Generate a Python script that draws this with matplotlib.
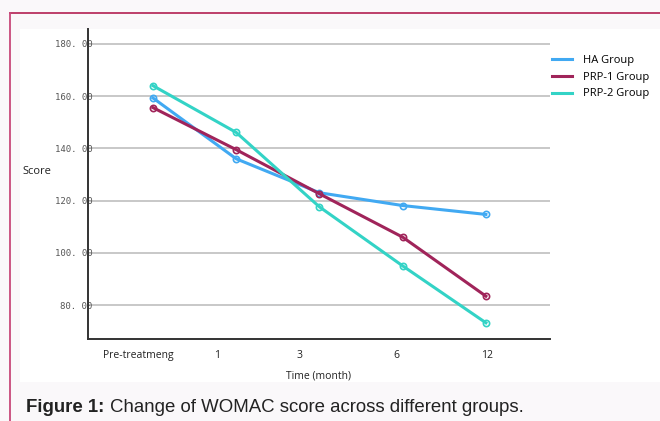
import numpy as np
import matplotlib.pyplot as plt
from matplotlib.lines import Line2D
from matplotlib.patches import Rectangle

# data
time_labels = ['Pre-treatmeng', '1', '3', '6', '12']
ha_group    = [159.3, 136.0, 123.0, 118.1, 114.7]
prp1_group  = [155.6, 139.5, 122.6, 106.0, 83.4]
prp2_group  = [164.0, 146.1, 117.6, 95.0, 73.2]
y_ticks     = [80, 100, 120, 140, 160, 180]

W, H = 660, 421


def FigParams():
    plt.rcParams['font.family'] = ['Open Sans', 'DejaVu Sans']
    plt.rcParams['axes.axisbelow'] = True


def px(x, y):
    # pixel coords (top-left origin) -> figure fraction
    return x / W, 1 - y / H


def FigGet():
    fig = plt.figure(figsize=(W / 100, H / 100), dpi=100, facecolor='#faf8fa')
    # white chart panel
    x0, y0 = px(20, 382)
    fig.patches.append(Rectangle((x0, y0), 1 - x0, (382 - 29) / H, transform=fig.transFigure,
                                 facecolor='white', edgecolor='none', zorder=-5))
    # crimson frame lines (top and left)
    fig.lines.append(Line2D([10 / W, 1], [1 - 13 / H, 1 - 13 / H], transform=fig.transFigure,
                            color='#b8305e', linewidth=1.3))
    fig.lines.append(Line2D([10 / W, 10 / W], [1 - 13 / H, 0], transform=fig.transFigure,
                            color='#c8487a', linewidth=1.3))
    l, b = px(88, 339)
    r, t = px(550, 29)
    ax = fig.add_axes([l, b, r - l, t - b])
    ax.set_facecolor('white')
    ax.patch.set_alpha(0)
    return fig, ax


def FigPlot(fig, ax):
    x = np.arange(len(time_labels))
    series = [('HA Group', ha_group, '#41a9f2'),
              ('PRP-1 Group', prp1_group, '#a0245a'),
              ('PRP-2 Group', prp2_group, '#33d3c6')]
    for name, vals, col in series:
        ax.plot(x, vals, color=col, linewidth=2.2, marker='o', markersize=4.5,
                markerfacecolor='none', markeredgecolor=col, markeredgewidth=1.2,
                label=name)

    ax.set_xlim(-0.78, 4.77)
    ax.set_ylim(67, 185.7)

    ax.set_yticks(y_ticks)
    ax.set_yticklabels(['{:.2f}'.format(v).replace('.', '. ') for v in y_ticks],
                       fontsize=6.5, color='#555555', family='DejaVu Sans Mono')
    ax.grid(axis='y', color='#c4c4c4', linewidth=1.3)

    # tick labels sit a bit left of the points in the original
    shift = [-0.18, -0.23, -0.24, -0.07, 0.01]
    ax.set_xticks(x + np.array(shift))
    ax.set_xticklabels(time_labels, fontsize=7.5, color='#222222')
    ax.tick_params(axis='both', length=0)
    ax.tick_params(axis='x', pad=8)
    ax.tick_params(axis='y', pad=-3)

    for s in ['top', 'right']:
        ax.spines[s].set_visible(False)
    for s in ['left', 'bottom']:
        ax.spines[s].set_color('#333333')
        ax.spines[s].set_linewidth(1.4)

    ax.set_xlabel('Time (month)', fontsize=7.5, color='#222222', labelpad=7)
    fig.text(37 / W, 1 - 172 / H, 'Score', fontsize=8, color='#222222',
             ha='center', va='center')

    leg = ax.legend(loc='upper left', bbox_to_anchor=(1.005, 0.915), frameon=False,
                    fontsize=8, handlelength=1.8, handletextpad=1.0,
                    labelspacing=0.5, borderaxespad=0, borderpad=0)
    for h in leg.legend_handles:
        h.set_marker('')
        h.set_linewidth(2.2)

    # caption
    fig.text(26 / W, 1 - 408 / H, 'Figure 1:', fontsize=13.4, fontweight='bold',
             family='Liberation Sans', color='#222222', va='center')
    fig.text(110 / W, 1 - 408 / H, 'Change of WOMAC score across different groups.',
             fontsize=13.4, family='Liberation Sans', color='#222222', va='center')


def main():
    FigParams()
    fig, ax = FigGet()
    FigPlot(fig, ax)
    fig.savefig('out.png', dpi=100, facecolor=fig.get_facecolor())


if __name__ == '__main__':
    main()
